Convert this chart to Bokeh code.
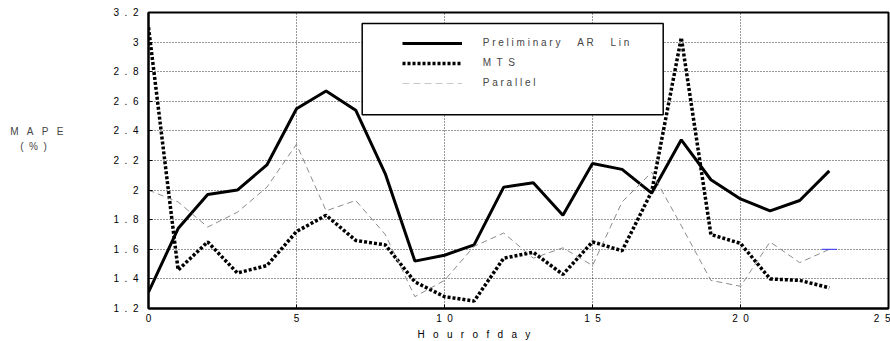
from bokeh.plotting import figure
from bokeh.models import (Range1d, FixedTicker, Legend, LegendItem, BoxAnnotation, Title)
from bokeh.embed import file_html
from bokeh.resources import INLINE

hours = list(range(24))
prelim_ar_lin = [1.31, 1.74, 1.97, 2.00, 2.17, 2.55, 2.67, 2.54, 2.11, 1.52, 1.56, 1.63,
                 2.02, 2.05, 1.83, 2.18, 2.14, 1.98, 2.34, 2.07, 1.94, 1.86, 1.93, 2.13]
mts = [3.10, 1.46, 1.65, 1.44, 1.49, 1.72, 1.83, 1.66, 1.63, 1.38, 1.28, 1.25,
       1.54, 1.58, 1.43, 1.65, 1.59, 1.99, 3.03, 1.70, 1.64, 1.40, 1.39, 1.34]
parallel = [2.00, 1.92, 1.75, 1.85, 2.02, 2.31, 1.86, 1.93, 1.70, 1.28, 1.39, 1.62,
            1.71, 1.54, 1.61, 1.49, 1.92, 2.12, 1.76, 1.39, 1.35, 1.65, 1.51, 1.60]
blue_x = [22.75, 23.26]
blue_y = [1.60, 1.60]

x_ticks = [0, 5, 10, 15, 20, 25]
x_tick_labels = ["0", "5", "10", "15", "20", "25"]
y_ticks = [1.2, 1.4, 1.6, 1.8, 2.0, 2.2, 2.4, 2.6, 2.8, 3.0, 3.2]
y_tick_labels = ["1.2", "1.4", "1.6", "1.8", "2", "2.2", "2.4", "2.6", "2.8", "3", "3.2"]
legend_labels = ["Preliminary AR Lin", "MTS", "Parallel"]
x_label = "Hour of day"
y_label_lines = ["MAPE", "(%)"]

FONT = "Liberation Sans"
NB = "\u00a0"


def spaced(s, gap, word_gap=None):
    """Emulate the wide letter spacing of the original rendering."""
    if word_gap is None:
        word_gap = gap
    return word_gap.join(gap.join(list(w)) for w in s.split(" "))


p = figure(width=890, height=341, output_backend="svg", toolbar_location=None,
           x_range=Range1d(0, 25), y_range=Range1d(1.2, 3.2),
           min_border_left=148, min_border_right=2, min_border_top=12, min_border_bottom=33)
p.background_fill_color = "white"
p.border_fill_color = "white"
p.outline_line_color = "black"
p.outline_line_width = 2

for ax in (p.xaxis[0], p.yaxis[0]):
    ax.axis_line_width = 2
    ax.axis_line_color = "black"
    ax.major_tick_in = 4
    ax.major_tick_out = 0
    ax.minor_tick_in = 0
    ax.minor_tick_out = 0
    ax.major_tick_line_color = "black"
    ax.major_label_text_font = FONT
    ax.major_label_text_font_size = "10px"
    ax.major_label_text_color = "black"

p.xaxis.ticker = FixedTicker(ticks=x_ticks)
p.xaxis.major_label_overrides = {t: spaced(l, NB * 2) for t, l in zip(x_ticks, x_tick_labels)}
p.xaxis.major_label_standoff = 4

xtitle = Title(text=spaced(x_label, NB * 3), align="left", offset=269, standoff=0,
               text_font=FONT, text_font_size="10px", text_font_style="normal",
               text_color="black")
p.add_layout(xtitle, "below")

p.yaxis.ticker = FixedTicker(ticks=y_ticks)
p.yaxis.major_label_overrides = {t: spaced(l, NB * 2) for t, l in zip(y_ticks, y_tick_labels)}
p.yaxis.major_label_standoff = 10
p.yaxis.axis_label = "\n".join([spaced(y_label_lines[0], NB * 3),
                                spaced(y_label_lines[1], NB * 2) + NB * 6, NB, NB, NB])
p.yaxis.axis_label_orientation = "horizontal"
p.yaxis.axis_label_text_font = FONT
p.yaxis.axis_label_text_font_size = "10px"
p.yaxis.axis_label_text_font_style = "normal"
p.yaxis.axis_label_text_line_height = 1.3
p.yaxis.axis_label_standoff = 47

for g in (p.xgrid[0], p.ygrid[0]):
    g.grid_line_color = "black"
    g.grid_line_alpha = 0.8
    g.grid_line_dash = "1 2"
    g.grid_line_width = 1
p.xgrid.ticker = FixedTicker(ticks=x_ticks)
p.ygrid.ticker = FixedTicker(ticks=y_ticks)

r1 = p.line(hours, prelim_ar_lin, line_color="black", line_width=3)
r2 = p.line(hours, mts, line_color="black", line_width=3.5, line_dash="3 2")
r3 = p.line(hours, parallel, line_color="#8c8c8c", line_width=1, line_dash="6 4")
p.line(blue_x, blue_y, line_color="#3333ff", line_width=1)
# lighter-grey sample used only for the legend entry
r3_key = p.line(hours, parallel, line_color="#c8c8c8", line_width=1.2, line_dash="7 4",
                visible=False)

# legend frame (screen units relative to the plot frame)
box = BoxAnnotation(left=213.7, right=514.7, top=285, bottom=193.7,
                    left_units="screen", right_units="screen",
                    top_units="screen", bottom_units="screen",
                    fill_color="white", fill_alpha=1.0,
                    line_color="black", line_width=1.5, line_alpha=1.0)
p.add_layout(box)

legend = Legend(items=[LegendItem(label=spaced(legend_labels[0], NB, NB * 6), renderers=[r1]),
                       LegendItem(label=spaced(legend_labels[1], NB * 2), renderers=[r2]),
                       LegendItem(label=spaced(legend_labels[2], NB), renderers=[r3_key])],
                location=(253.7, 215.4), padding=0, margin=0, spacing=0,
                glyph_width=60, glyph_height=20, label_height=20,
                label_standoff=21, border_line_color=None,
                background_fill_alpha=0.0,
                label_text_font=FONT, label_text_font_size="10px",
                label_text_baseline="middle")
p.add_layout(legend, "center")

open("out.html", "w").write(file_html(p, INLINE))
